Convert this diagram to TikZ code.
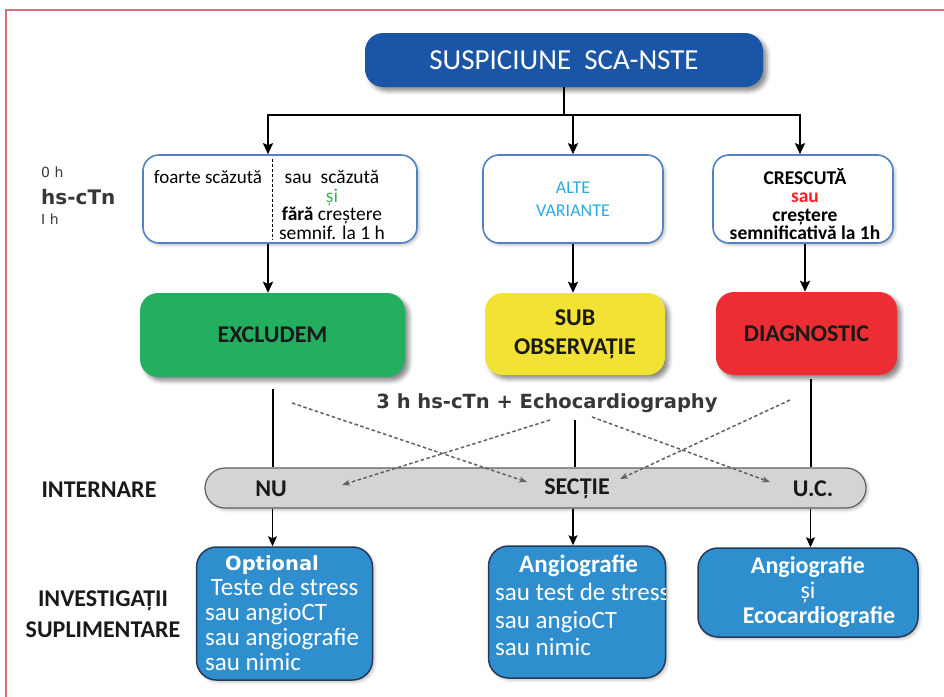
\documentclass[tikz,border=0pt]{standalone}
\usepackage{fontspec}
\setmainfont{Carlito}
\newfontfamily\gillish{DejaVu Sans}
\usetikzlibrary{arrows.meta,shadows.blur,calc}

\definecolor{framecol}{RGB}{214,112,122}
\definecolor{titleblue}{RGB}{27,86,166}
\definecolor{hsborder}{RGB}{80,130,195}
\definecolor{exgreen}{RGB}{35,174,96}
\definecolor{subyellow}{RGB}{242,226,52}
\definecolor{diagred}{RGB}{236,45,51}
\definecolor{bargray}{RGB}{212,212,212}
\definecolor{bardark}{RGB}{95,95,95}
\definecolor{invblue}{RGB}{47,142,206}
\definecolor{invborder}{RGB}{38,58,88}
\definecolor{altblue}{RGB}{41,170,226}
\definecolor{sigreen}{RGB}{60,180,75}
\definecolor{saured}{RGB}{250,30,40}
\definecolor{labelgray}{RGB}{55,55,55}
\definecolor{inkblack}{RGB}{25,25,25}

\begin{document}
\begin{tikzpicture}[x=1pt,y=-1pt,
  softshadow/.style={blur shadow={shadow xshift=4pt,shadow yshift=-4pt,
      shadow blur radius=4pt,shadow opacity=45}},
  lightshadow/.style={blur shadow={shadow xshift=2pt,shadow yshift=-2pt,
      shadow blur radius=3pt,shadow opacity=25}},
  topbox/.style={rounded corners=18pt,fill=titleblue,text=white,softshadow,
      minimum width=398pt,minimum height=54pt,inner sep=0pt,
      font=\fontsize{29}{34}\selectfont},
  hbox/.style={draw=hsborder,line width=1.6pt,rounded corners=16pt,fill=white,
      lightshadow,minimum height=88pt,inner sep=0pt},
  colbox/.style={rounded corners=18pt,softshadow,inner sep=0pt,text=inkblack,
      align=center,font=\bfseries\fontsize{24}{29}\selectfont},
  barbox/.style={rounded corners=20pt,fill=bargray,draw=bardark,line width=1.2pt,
      lightshadow,minimum width=661pt,minimum height=40pt,inner sep=0pt},
  invbox/.style={rounded corners=20pt,fill=invblue,draw=invborder,line width=1.5pt,
      lightshadow,inner sep=0pt},
  invtext/.style={text=white,inner sep=0pt,font=\fontsize{25}{25}\selectfont},
  lbl/.style={text=inkblack,inner sep=0pt,font=\bfseries\fontsize{24}{31}\selectfont},
  conn/.style={line width=2.2pt,black},
  arr/.style={line width=2.2pt,black,-{Stealth[length=11pt,width=10pt,inset=2pt]}},
  thinarr/.style={line width=1.4pt,black,-{Stealth[length=10pt,width=9pt,inset=2pt]}},
  dasharr/.style={line width=1.5pt,black!62,dash pattern=on 3.5pt off 2.5pt,
      -{Stealth[length=8pt,width=6pt]}}
]
\useasboundingbox (0,0) rectangle (944,696);

% outer frame
\draw[framecol,line width=2.2pt] (6,10) rectangle (1000,760);

% start node
\node[topbox] (top) at (564,60) {SUSPICIUNE\ \ SCA-NSTE};

% hs-cTn labels on the left
\node[anchor=west,inner sep=0pt,text=labelgray,font=\gillish\fontsize{14}{14}\selectfont] (h0) at (41,172) {0 h};
\node[anchor=west,inner sep=0pt,text=labelgray,font=\gillish\bfseries\fontsize{20}{20}\selectfont] (hsl) at (41,197) {hs-cTn};
\node[anchor=west,inner sep=0pt,text=labelgray,font=\gillish\fontsize{14}{14}\selectfont] (h1) at (41,219) {I h};

% troponin result boxes
\node[hbox,minimum width=274pt] (hs1) at (280,199) {};
\node[hbox,minimum width=180pt,text=altblue,align=center,
      font=\fontsize{18}{23}\selectfont] (hs2) at (573,199) {ALTE\\VARIANTE};
\node[hbox,minimum width=180pt] (hs3) at (803,199) {};

\draw[densely dashed,line width=0.9pt] ($(hs1.north)+(-8,5)$) -- ($(hs1.south)+(-8,-4)$);
\node[inner sep=0pt,font=\fontsize{19}{18.5}\selectfont] (fs) at (208,177) {foarte scăzută};
\node[inner sep=0pt,align=center,font=\fontsize{19.5}{18.5}\selectfont] (ss) at (332,205)
  {sau\ \ scăzută\\{\color{sigreen}și}\\\textbf{fără} creștere\\semnif. la 1 h};
\node[inner sep=0pt,align=center,font=\bfseries\fontsize{19.5}{18.3}\selectfont] (cr) at (805,204)
  {CRESCUTĂ\\{\color{saured}sau}\\creștere\\semnificativă la 1h};

% decision boxes
\node[colbox,fill=exgreen,minimum width=265pt,minimum height=84pt] (excl) at (272.5,335) {EXCLUDEM};
\node[colbox,fill=subyellow,minimum width=180pt,minimum height=82pt] (sub) at (575,334) {SUB\\OBSERVAȚIE};
\node[colbox,fill=diagred,minimum width=181pt,minimum height=83pt] (diag) at (806.5,333.5) {DIAGNOSTIC};

\node[inner sep=0pt,text=labelgray,font=\gillish\bfseries\fontsize{19.5}{20}\selectfont] (echo) at (547,403)
  {3 h hs-cTn + Echocardiography};

% admission bar
\node[barbox] (bar) at (535.5,488) {};
\node[lbl] (nu) at (271,489) {NU};
\node[lbl] (sec) at (577,489) {SECȚIE};
\node[lbl] (uc) at (813,489) {U.C.};
\node[lbl] (intern) at (99,490) {INTERNARE};
\node[lbl,align=center] (invest) at (103,614) {INVESTIGAȚII\\SUPLIMENTARE};

% further investigations
\node[invbox,minimum width=176pt,minimum height=133pt] (inv1) at (284.5,613.5) {};
\node[invtext,anchor=north west,align=left] (inv1t) at (205,555)
  {\hspace*{20pt}{\gillish\bfseries\fontsize{19.5}{25}\selectfont Optional}\\
   \ Teste de stress\\sau angioCT\\sau angiografie\\sau nimic};

\node[invbox,minimum width=177pt,minimum height=132pt] (inv2) at (577,612) {};
\begin{scope}
  \clip (480,540) rectangle (665.5,690);
  \node[invtext,anchor=north west,align=left,font=\fontsize{25}{27.7}\selectfont] (inv2t) at (495,555)
    {\hspace*{24pt}\textbf{Angiografie}\\sau test de stress\\sau angioCT\\sau nimic};
\end{scope}

\node[invbox,minimum width=220pt,minimum height=89pt,text=white,align=center,
      font=\fontsize{24}{25}\selectfont] (inv3) at (808,592.5)
  {\textbf{Angiografie}\\și\\\hspace*{22pt}\textbf{Ecocardiografie}};

% connectors from the start node
\coordinate (jl) at (268,115);
\coordinate (jr) at (800,115);
\draw[conn] (top.south) -- (top.south |- jl);
\draw[conn,line cap=rect] (jl) -- (jr);
\draw[arr] (jl) -- (jl |- hs1.north);
\draw[arr] (hs2.north |- jl) -- (hs2.north);
\draw[arr] (jr) -- (jr |- hs3.north);

% result boxes to decisions
\draw[arr] (jl |- hs1.south) -- (jl |- excl.north);
\draw[arr] (hs2.south) -- (hs2.south |- sub.north);
\draw[arr] ([xshift=2pt]hs3.south) -- ([xshift=2pt]hs3.south |- diag.north);

% decisions to admission
\draw[conn,line width=2pt,shorten <=12pt] (excl.south) -- (excl.south |- bar.north);
\draw[line width=1.3pt,shorten <=45pt] (sub.south) -- (sub.south |- bar.north);
\draw[conn,line width=2.5pt,shorten <=4pt] ([xshift=4.5pt]diag.south) -- ([xshift=4.5pt]diag.south |- bar.north);

% re-evaluation after 3 h
\coordinate (a1) at (292,403);  \coordinate (b1) at (527,482);
\coordinate (a2) at (550,420);  \coordinate (b2) at (342,485);
\coordinate (a3) at (592,417);  \coordinate (b3) at (770,482);
\coordinate (a4) at (790,400);  \coordinate (b4) at (620,479);
\draw[dasharr] (a1) -- (b1);
\draw[dasharr] (a2) -- (b2);
\draw[dasharr] (a3) -- (b3);
\draw[dasharr] (a4) -- (b4);

% admission to investigations
\draw[thinarr] (excl.south |- bar.south) -- (excl.south |- inv1.north);
\draw[thinarr] ([xshift=-2pt]sub.south |- bar.south) -- ([xshift=-2pt]sub.south |- inv2.north);
\draw[thinarr] ([xshift=4pt]diag.south |- bar.south) -- ([xshift=4pt]diag.south |- inv3.north);
\end{tikzpicture}
\end{document}
